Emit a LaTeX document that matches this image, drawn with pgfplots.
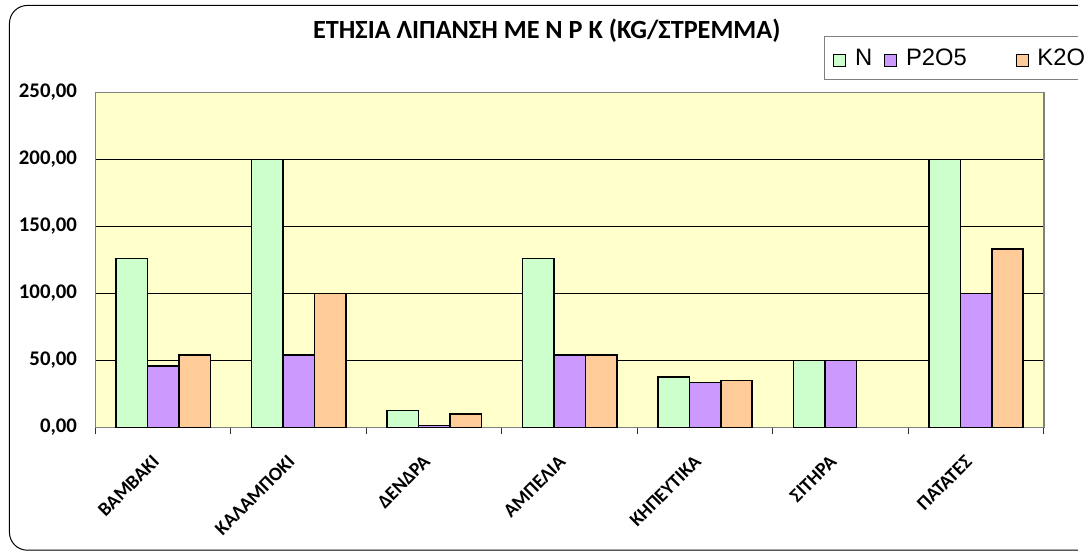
\documentclass[border=0pt]{standalone}
\usepackage{pgfplots}
\pgfplotsset{compat=1.18}
\usepackage{fontspec}
\newfontfamily\carlito{Carlito}
\newfontfamily\arial{Liberation Sans}
\definecolor{cN}{HTML}{CCFFCC}
\definecolor{cP}{HTML}{CC99FF}
\definecolor{cK}{HTML}{FFCC99}
\definecolor{bg}{HTML}{FFFFCC}
\definecolor{frm}{HTML}{808080}
\begin{document}
\begin{tikzpicture}[x=1bp,y=1bp]
\path (0,0) rectangle (1085,-555);
\draw[rounded corners=18bp, line width=1bp] (1084.4,-5.5) -- (9.5,-5.5) -- (9.5,-553.5) -- (1084.4,-553.5);
\node[font=\carlito\bfseries\fontsize{26.5}{30}\selectfont] at (550,-31) {ΕΤΗΣΙΑ ΛΙΠΑΝΣΗ ΜΕ N P K (KG/ΣΤΡΕΜΜΑ)};
\draw[frm, line width=1bp] (1084.4,-37) -- (829,-37) -- (829,-80) -- (1084.4,-80);
\begin{axis}[
  at={(96bp,-430bp)}, anchor=south west,
  width=954bp, height=337bp, scale only axis,
  axis background/.style={fill=bg},
  axis line style={draw=frm, line width=1.5bp},
  ybar=0pt, bar width=0.232,
  xmin=-0.5, xmax=6.5, ymin=0, ymax=250,
  xtick={-0.5,0.5,...,6.5},
  x tick label as interval,
  xticklabels={ΒΑΜΒΑΚΙ,ΚΑΛΑΜΠΟΚΙ,ΔΕΝΔΡΑ,ΑΜΠΕΛΙΑ,ΚΗΠΕΥΤΙΚΑ,ΣΙΤΗΡΑ,ΠΑΤΑΤΕΣ},
  xticklabel style={font=\carlito\bfseries\fontsize{19.5}{21}\selectfont, xshift=-5bp, yshift=-22bp, rotate=45, anchor=east},
  ytick={0,50,...,250},
  yticklabel style={font=\carlito\bfseries\fontsize{21}{24}\selectfont, xshift=-8bp},
  /pgf/number format/.cd, fixed, fixed zerofill, precision=2, use comma, assume math mode=true,
  /pgfplots/.cd,
  tick pos=left,
  tick align=outside,
  xtick style={draw=black!80, line width=1bp},
  major tick length=7bp,
  ytick style={draw=none},
  ymajorgrids,
  grid style={draw=black, line width=0.9bp},
  legend columns=3,
  legend style={at={(0.7778,1.1024)}, anchor=west, draw=none, fill=none,
     font=\arial\fontsize{24}{26}\selectfont, inner sep=0pt,
     nodes={inner xsep=0pt},
     /tikz/every even column/.append style={column sep=0pt},
     /tikz/every odd column/.append style={column sep=0pt}},
  legend image code/.code={\draw[#1, line width=1bp] (0bp,-8.5bp) rectangle (12bp,3.5bp);},
]
\addplot[fill=cN, draw=black, line width=1.5bp] coordinates {(0,126) (1,200) (2,12.5) (3,126) (4,37.5) (5,50) (6,200)};
\addlegendentry{\hspace*{9bp}N\hspace*{12bp}\mbox{}}
\addplot[fill=cP, draw=black, line width=1.5bp] coordinates {(0,46) (1,54) (2,1.5) (3,54) (4,33.5) (5,50) (6,100)};
\addlegendentry{\hspace*{9bp}P2O5\hspace*{49bp}\mbox{}}
\addplot[fill=cK, draw=black, line width=1.5bp] coordinates {(0,54) (1,100) (2,10) (3,54) (4,35) (6,133.3)};
\addlegendentry{\hspace*{9bp}K2O}
\end{axis}
\end{tikzpicture}
\end{document}
